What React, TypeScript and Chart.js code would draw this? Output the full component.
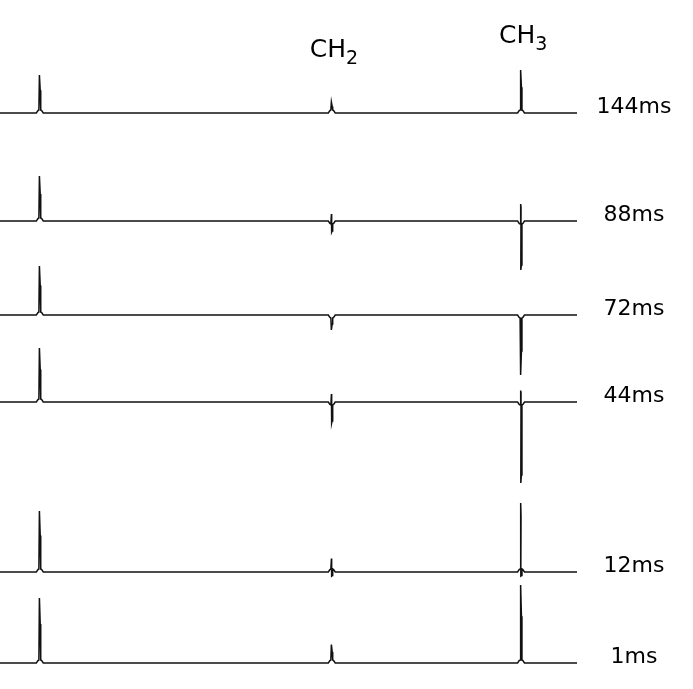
import React, { useEffect, useRef } from "react";
import { Chart, registerables } from "chart.js";

Chart.register(...registerables);

// Trace labels (relaxation delays), top to bottom
const DELAYS = ["144ms", "88ms", "72ms", "44ms", "12ms", "1ms"];
// Vertical offset of each trace baseline (intensity units)
const OFFSETS = [550, 442, 348, 261, 91, 0];
// Peak positions (arbitrary shift units, 0..100 across the spectrum)
const PEAK_SHIFTS = [6.9, 57.5, 90.3];
// Reference peak amplitude
const REF_UP = [38, 45, 49, 54, 61, 65];
// CH2 positive / negative lobes
const CH2_UP = [11, 7, 0, 8, 13.5, 18.5];
const CH2_DOWN = [0, 11, 15, 21, 4, 0];
// CH3 positive / negative lobes
const CH3_UP = [43, 17, 0, 11.5, 69, 78];
const CH3_DOWN = [0, 49, 60, 81, 4, 0];
// Group labels over peaks
const GROUP_MAIN = ["CH", "CH"];
const GROUP_SUB = ["2", "3"];

type Pt = { x: number; y: number };

function peakPoints(x0: number, up: number, down: number, base: number): Pt[] {
  const sign = up >= down ? 1 : -1;
  const big = Math.max(up, down);
  const f = sign * Math.min(3, big * 0.3);
  const pts: Pt[] = [];
  pts.push({ x: x0 - 0.6, y: base });
  pts.push({ x: x0 - 0.32, y: base + f * 0.8 });
  pts.push({ x: x0 - 0.16, y: base + f });
  if (up > 0 && down > 0) {
    pts.push({ x: x0 - 0.06, y: base + up });
    pts.push({ x: x0, y: base + up * 0.8 });
    pts.push({ x: x0 - 0.04, y: base - down });
    pts.push({ x: x0 + 0.06, y: base - down * 0.9 });
  } else if (up > 0) {
    pts.push({ x: x0 - 0.07, y: base + up });
    pts.push({ x: x0 + 0.07, y: base + up * 0.6 });
  } else if (down > 0) {
    pts.push({ x: x0 - 0.07, y: base - down });
    pts.push({ x: x0 + 0.07, y: base - down * 0.6 });
  }
  pts.push({ x: x0 + 0.16, y: base + f });
  pts.push({ x: x0 + 0.32, y: base + f * 0.8 });
  pts.push({ x: x0 + 0.6, y: base });
  return pts;
}

function traceData(i: number): Pt[] {
  const b = OFFSETS[i];
  return [
    { x: 0, y: b },
    ...peakPoints(PEAK_SHIFTS[0], REF_UP[i], 0, b),
    ...peakPoints(PEAK_SHIFTS[1], CH2_UP[i], CH2_DOWN[i], b),
    ...peakPoints(PEAK_SHIFTS[2], CH3_UP[i], CH3_DOWN[i], b),
    { x: 100, y: b },
  ];
}

const labelPlugin = {
  id: "traceLabels",
  afterDatasetsDraw(chart: any) {
    const { ctx, scales, chartArea } = chart;
    const xs = scales.x;
    const ys = scales.y;
    ctx.save();
    ctx.fillStyle = "#000";
    ctx.font = '22px "DejaVu Sans"';
    ctx.textAlign = "center";
    ctx.textBaseline = "alphabetic";
    const lx = chartArea.right + 57;
    DELAYS.forEach((d, i) => {
      ctx.fillText(d, lx, ys.getPixelForValue(OFFSETS[i]) - 0.5);
    });
    const topBase = ys.getPixelForValue(OFFSETS[0]);
    const rise = [56, 70];
    GROUP_MAIN.forEach((m, k) => {
      const px = xs.getPixelForValue(PEAK_SHIFTS[k + 1]);
      const by = topBase - rise[k];
      ctx.textAlign = "left";
      ctx.font = '25px "DejaVu Sans"';
      const left = px - 22;
      ctx.fillText(m, left, by);
      const w = ctx.measureText(m).width;
      ctx.font = '19px "DejaVu Sans"';
      ctx.fillText(GROUP_SUB[k], left + w, by + 7);
    });
    ctx.restore();
  },
};

export default function App() {
  const ref = useRef<HTMLCanvasElement | null>(null);
  useEffect(() => {
    if (!ref.current) return;
    const chart = new Chart(ref.current, {
      type: "line",
      data: {
        datasets: DELAYS.map((d, i) => ({
          label: d,
          data: traceData(i),
          borderColor: "#111",
          borderWidth: 1.5,
          pointRadius: 0,
          tension: 0,
          fill: false,
        })),
      },
      options: {
        responsive: false,
        animation: false,
        parsing: true,
        layout: { padding: { left: 0, right: 116, top: 0, bottom: 0 } },
        scales: {
          x: { type: "linear", min: 0, max: 100, display: false },
          y: { type: "linear", min: -26, max: 663, display: false },
        },
        plugins: {
          legend: { display: false },
          tooltip: { enabled: false },
        },
      },
      plugins: [labelPlugin],
    });
    return () => chart.destroy();
  }, []);
  return (
    <div style={{ position: "absolute", left: 0, top: 0, width: 693, height: 689, background: "#fff" }}>
      <canvas ref={ref} width={693} height={689} style={{ display: "block" }} />
    </div>
  );
}
